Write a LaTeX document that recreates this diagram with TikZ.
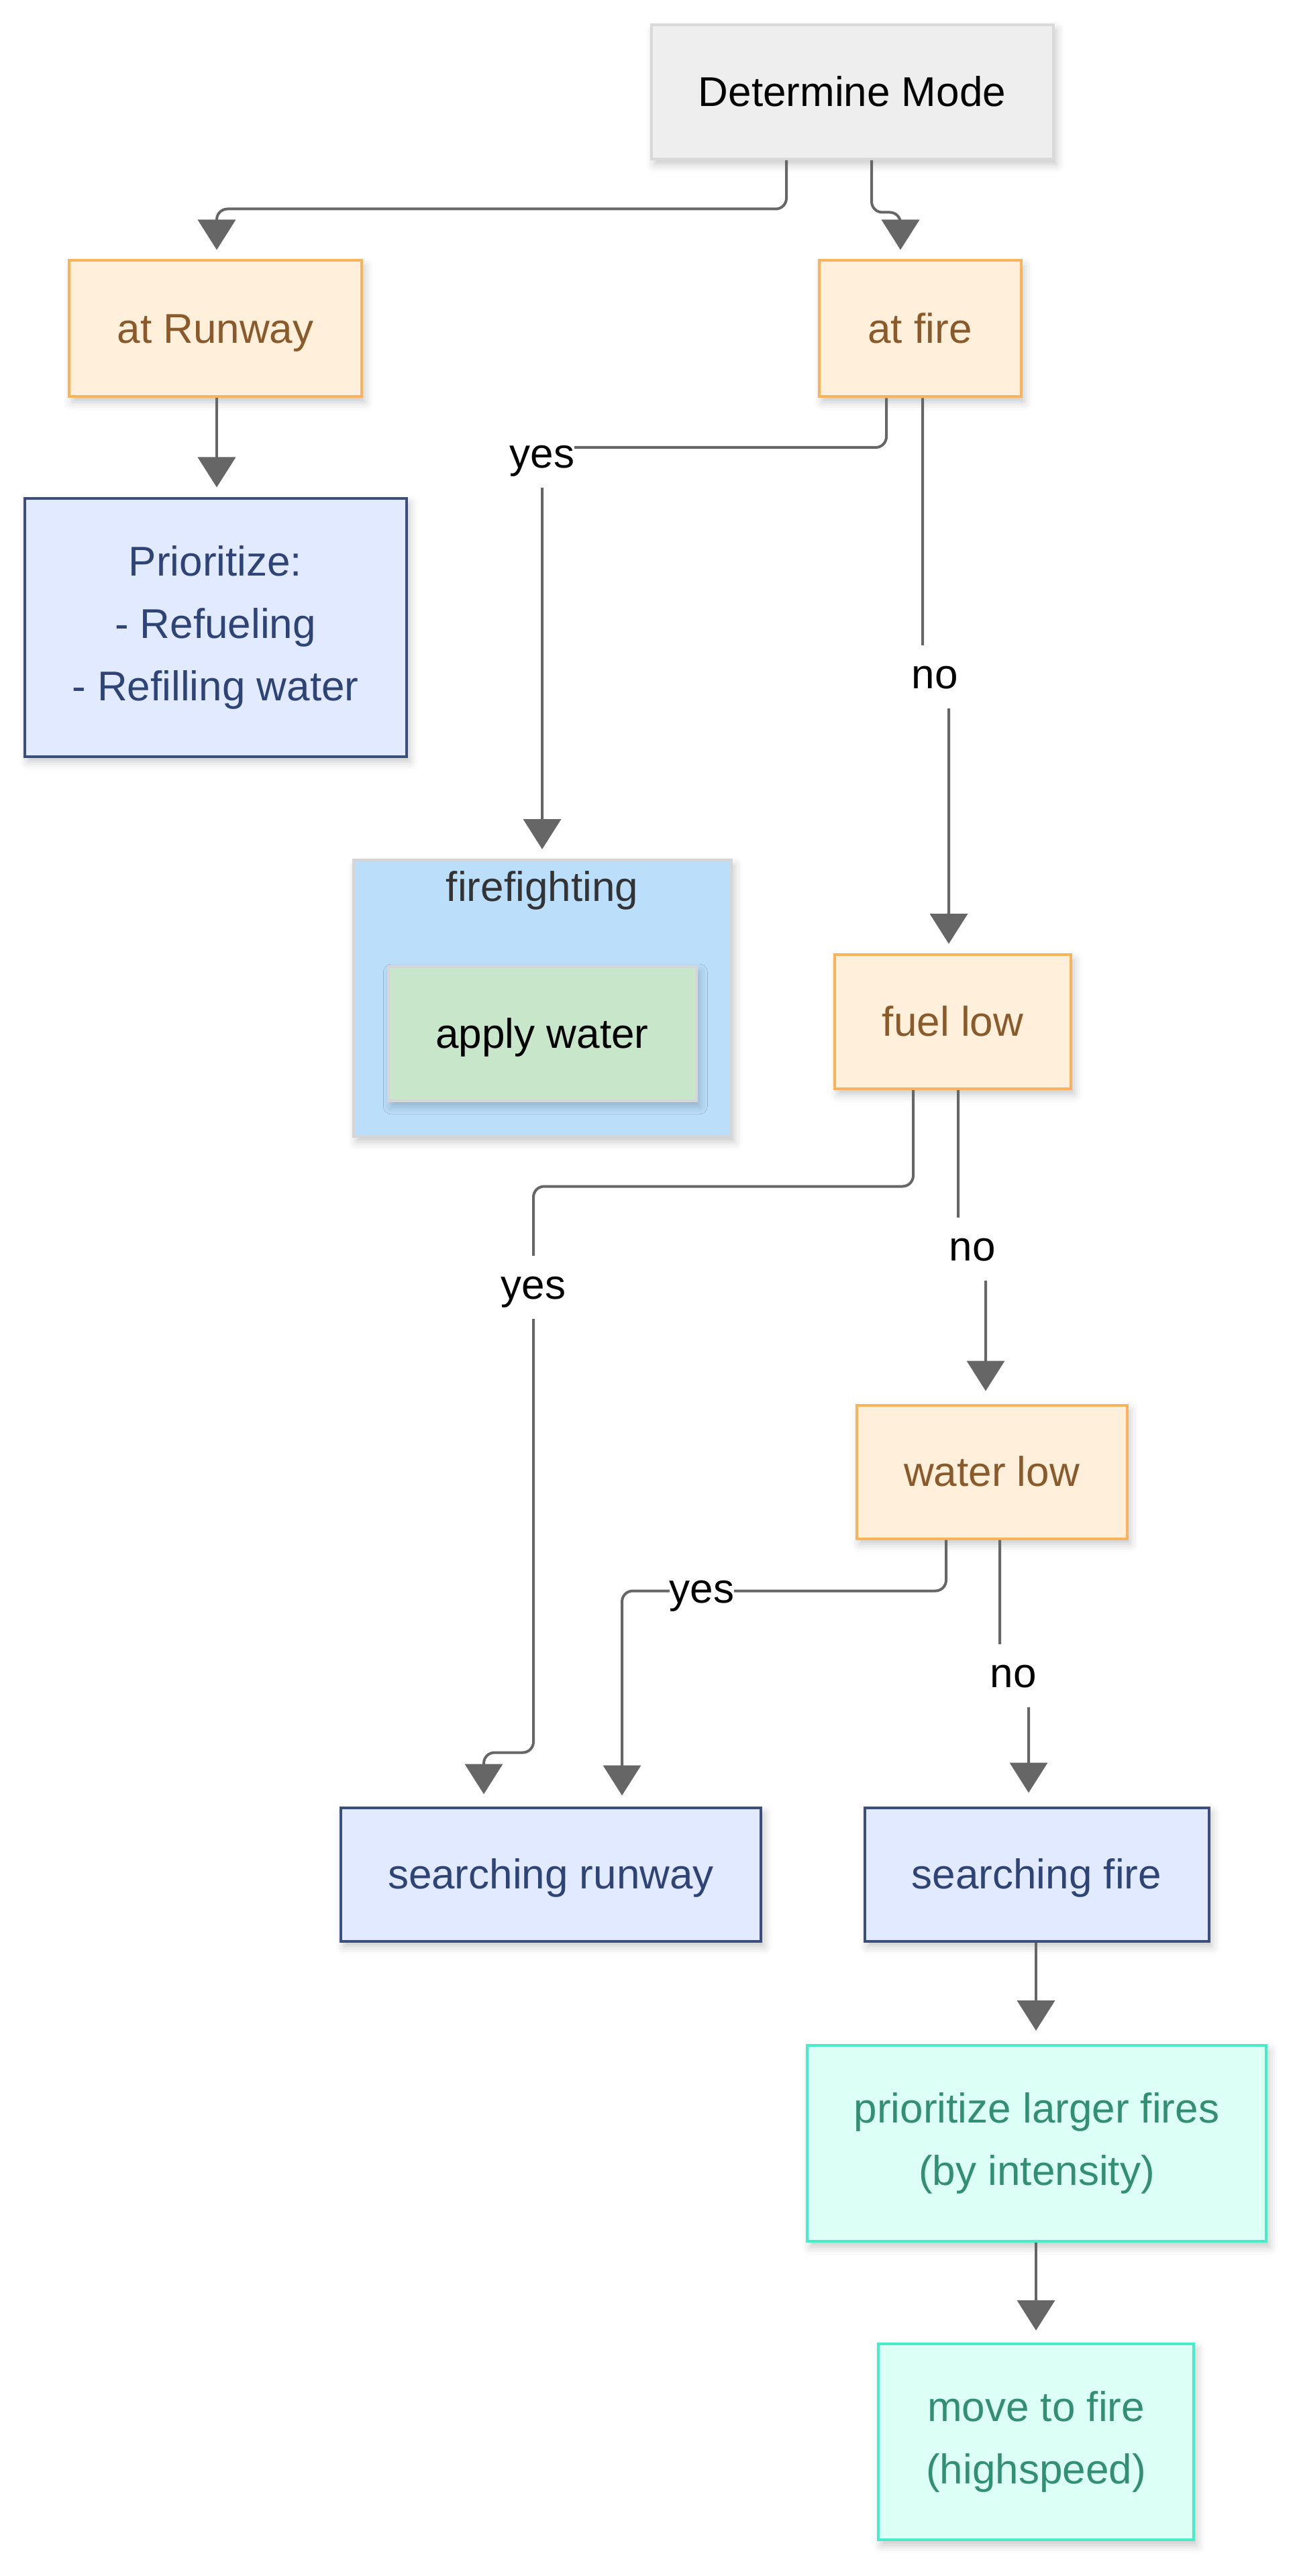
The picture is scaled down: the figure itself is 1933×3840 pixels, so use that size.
\documentclass[tikz,border=0pt]{standalone}
\usepackage{fontspec}
\setmainfont{Liberation Sans}
\usetikzlibrary{calc,arrows.meta,shadows.blur}

\definecolor{edgegray}{HTML}{666666}
\definecolor{modefill}{HTML}{EEEEEE}
\definecolor{modeline}{HTML}{D9D9D9}
\definecolor{condfill}{HTML}{FFEFDB}
\definecolor{condline}{HTML}{FBB35A}
\definecolor{condtext}{HTML}{8A5A2B}
\definecolor{statefill}{HTML}{E1EAFF}
\definecolor{stateline}{HTML}{3A4F7F}
\definecolor{statetext}{HTML}{2F4476}
\definecolor{clusterfill}{HTML}{BBDEFB}
\definecolor{clusterline}{HTML}{D6D6D6}
\definecolor{actfill}{HTML}{C8E6C9}
\definecolor{goalfill}{HTML}{DCFFF6}
\definecolor{goalline}{HTML}{46EDC8}
\definecolor{goaltext}{HTML}{338F73}

\begin{document}
\begin{tikzpicture}[x=0.25pt, y=-0.25pt,
    box/.style={rectangle, line width=1pt, inner sep=0pt, align=center,
        font=\fontsize{15.5}{23.25}\selectfont,
        blur shadow={shadow xshift=1.2pt, shadow yshift=-2pt, shadow blur radius=3pt, shadow opacity=22}},
    oneline/.style={text height=14pt, text depth=3.3pt},
    mode/.style={box, oneline, fill=modefill, draw=modeline, text=black},
    cond/.style={box, oneline, fill=condfill, draw=condline, text=condtext},
    state/.style={box, fill=statefill, draw=stateline, text=statetext},
    goal/.style={box, fill=goalfill, draw=goalline, text=goaltext},
    flow/.style={draw=edgegray, line width=1pt, rounded corners=4pt,
        -{Triangle[length=11.25pt, width=14pt]}},
    lbl/.style={fill=white, inner sep=0pt, minimum height=23.5pt, text height=12pt, text depth=3.3pt,
        font=\fontsize{15.5}{18}\selectfont, text=black}]
    \useasboundingbox (0,0) rectangle (1933,3840);

    % Mode check
    \node[mode, minimum width=149.75pt, minimum height=50pt] (mode) at (1270,137) {Determine Mode};
    \node[cond, minimum width=109pt, minimum height=50.75pt] (runway) at (321,490) {at Runway};
    \node[cond, minimum width=75.25pt, minimum height=50.75pt] (atfire) at (1371,490) {at fire};
    \node[state, minimum width=142.25pt, minimum height=96.25pt] (prior) at (321,935) {Prioritize:\\- Refueling\\- Refilling water};

    % Firefighting group
    \node[box, fill=clusterfill, draw=clusterline, minimum width=140.75pt, minimum height=103pt] (fight) at (808,1488) {};
    \node[font=\fontsize{15.5}{18}\selectfont, text=black!80] (fighttitle) at (808,1327) {firefighting};
    \node[box, oneline, fill=actfill, draw=clusterline, text=black, minimum width=114.75pt, minimum height=50pt] (apply) at (808,1541) {apply water};

    % Checks
    \node[cond, minimum width=88pt, minimum height=50pt] (fuel) at (1420,1523) {fuel low};
    \node[cond, minimum width=100.75pt, minimum height=49.75pt] (water) at (1478,2194) {water low};
    \node[state, oneline, minimum width=156.5pt, minimum height=49.75pt] (srunway) at (821,2794) {searching runway};
    \node[state, oneline, minimum width=128.25pt, minimum height=49.75pt] (sfire) at (1545,2794) {searching fire};
    \node[goal, minimum width=171pt, minimum height=73pt] (larger) at (1545,3195) {prioritize larger fires\\(by intensity)};
    \node[goal, minimum width=117.5pt, minimum height=73pt] (move) at (1544,3640) {move to fire\\(highspeed)};

    % Edges
    \draw[flow] ($(mode.south)+(-98,0)$) |- ($(runway.north)+(2,-75)$) -- ($(runway.north)+(2,-14)$);
    \draw[flow] ($(mode.south)+(29,0)$) |- ($(atfire.north)+(-29,-70)$) -- ($(atfire.north)+(-29,-14)$);
    \draw[flow] ($(runway.south)+(2,0)$) -- ($(prior.north)+(2,-14)$);
    \draw[flow] ($(atfire.south)+(-50,0)$) |- ($(fight.north)+(0,-613)$) -- ($(fight.north)+(0,-14)$);
    \draw[flow] ($(atfire.south)+(4,0)$) -- ($(atfire.south)+(4,406)$) -- ($(fuel.north)+(-6,-401)$) -- ($(fuel.north)+(-6,-14)$);
    \draw[flow] ($(fuel.south)+(-59,0)$) |- ($(srunway.north)+(-26,-924)$) -- ($(srunway.north)+(-26,-80)$) -| ($(srunway.north)+(-100,-18)$);
    \draw[flow] ($(fuel.south)+(8,0)$) -- ($(fuel.south)+(8,225)$) -- ($(water.north)+(-9,-218)$) -- ($(water.north)+(-9,-19)$);
    \draw[flow] ($(water.south)+(-68,0)$) |- ($(srunway.north)+(106,-321)$) -- ($(srunway.north)+(106,-16)$);
    \draw[flow] ($(water.south)+(12,0)$) -- ($(water.south)+(12,195)$) -- ($(sfire.north)+(-12,-185)$) -- ($(sfire.north)+(-12,-20)$);
    \draw[flow] ($(sfire.south)+(-1,0)$) -- ($(larger.north)+(-1,-20)$);
    \draw[flow] ($(larger.south)+(-1,0)$) -- ($(move.north)+(0,-18)$);

    % Edge labels
    \foreach \name/\x/\y/\txt in {yesfire/808/680/yes, nofire/1393/1009/no, yesfuel/795/1919/yes,
        nofuel/1449/1862/no, yeswater/1046/2372/yes, nowater/1510/2498/no}
        \node[lbl] (\name) at (\x,\y) {\txt};
\end{tikzpicture}
\end{document}
